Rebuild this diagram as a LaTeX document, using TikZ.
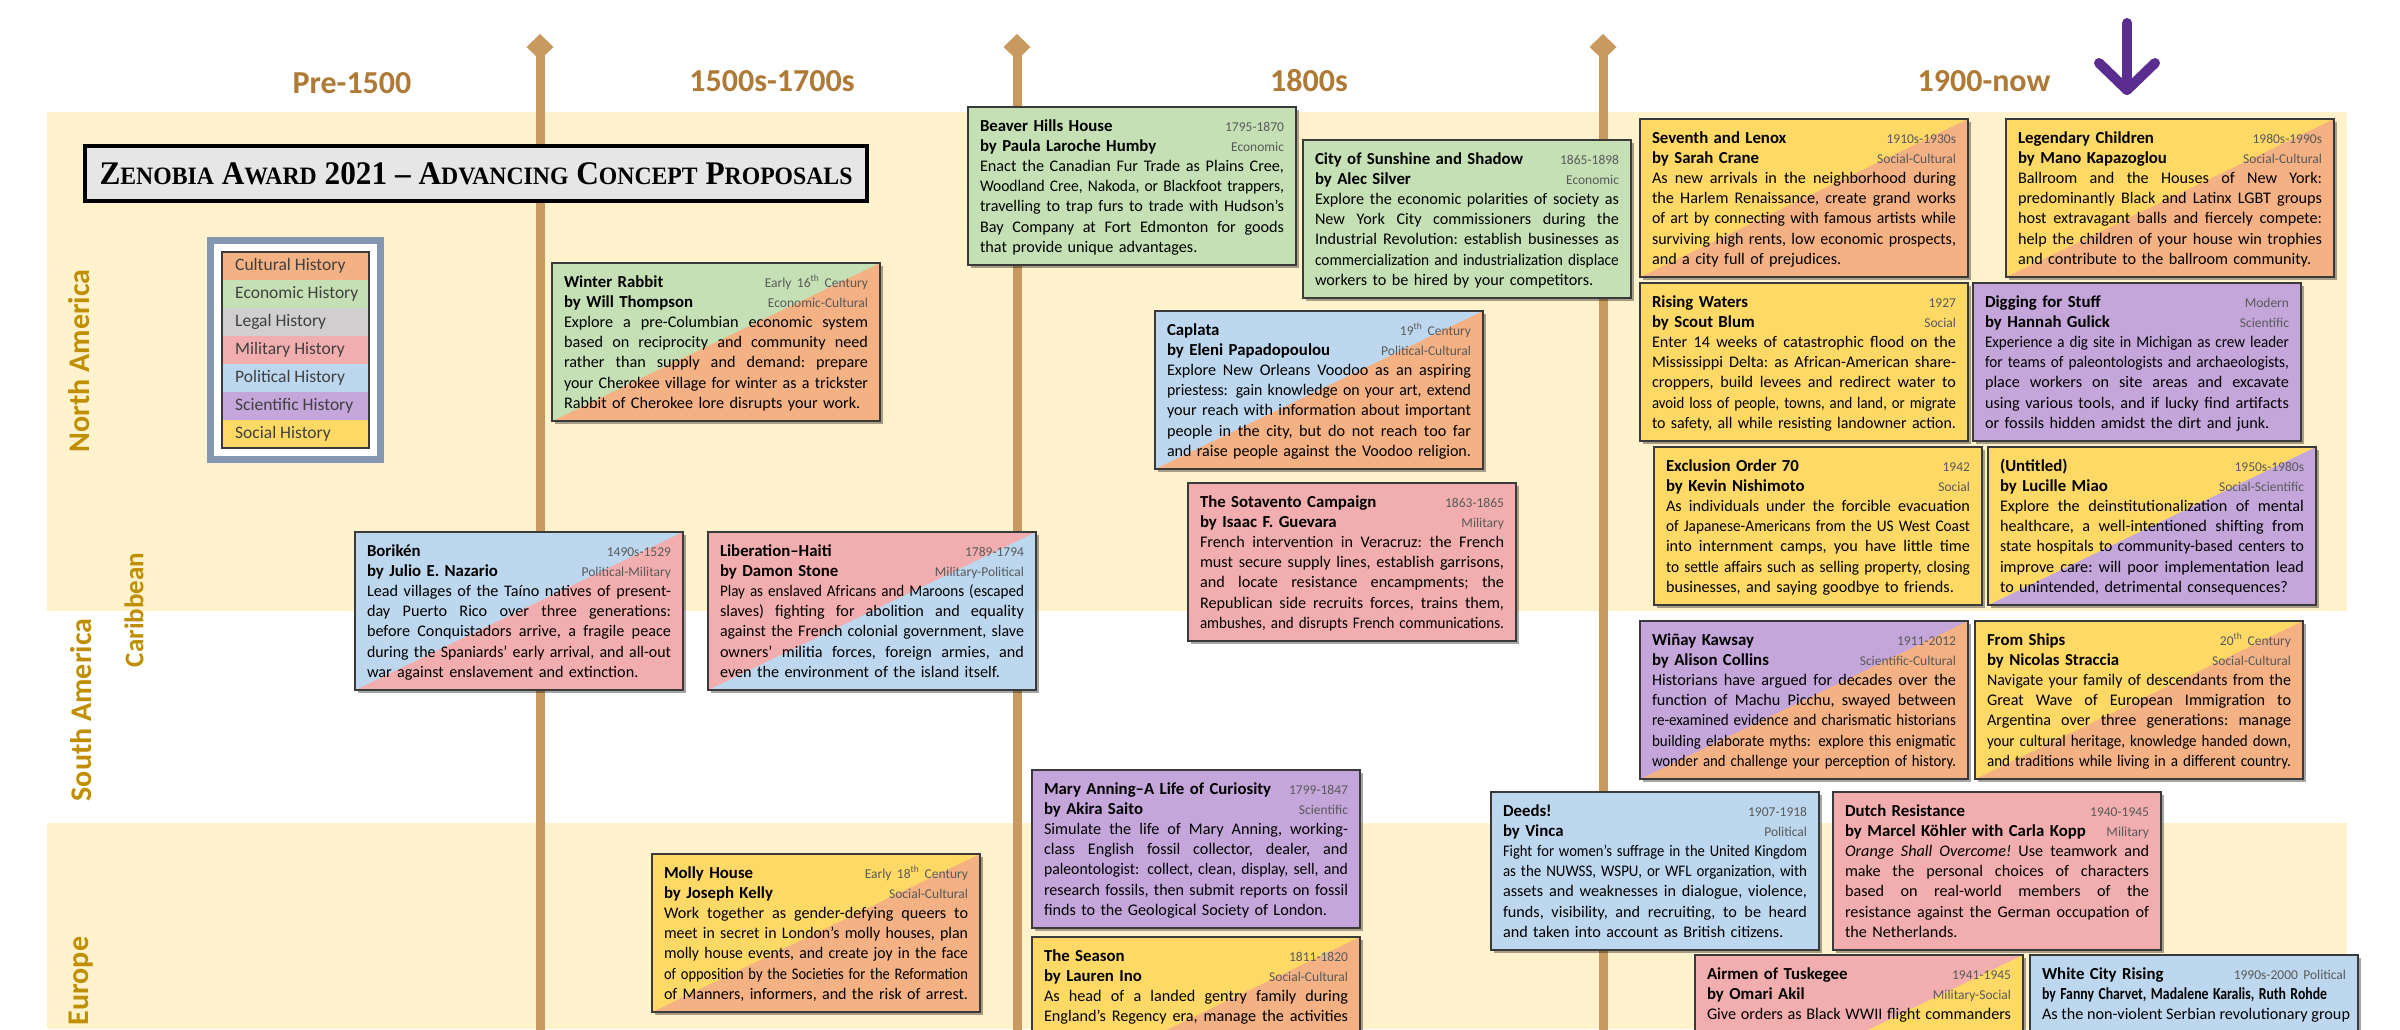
\documentclass[tikz,border=0pt]{standalone}
\usepackage{fontspec}
\setmainfont{Carlito}
\newfontfamily\ttlfont{Liberation Serif}
\usepackage{graphicx}
\usetikzlibrary{shadows,calc}
\setlength\parindent{0pt}

% category colours
\definecolor{cult}{HTML}{F4B183}
\definecolor{econ}{HTML}{C5E0B4}
\definecolor{legl}{HTML}{D0CECE}
\definecolor{mil}{HTML}{F2AEAE}
\definecolor{pol}{HTML}{BDD7EE}
\definecolor{sci}{HTML}{C4A6DA}
\definecolor{soc}{HTML}{FFD966}
% page colours
\definecolor{band}{HTML}{FFF2CC}
\definecolor{tan}{HTML}{C99A5F}
\definecolor{eratext}{HTML}{AE7A36}
\definecolor{regtext}{HTML}{BF8F00}
\definecolor{cardline}{HTML}{3A3A3A}
\definecolor{metagray}{HTML}{595959}
\definecolor{legframe}{HTML}{8497B0}
\definecolor{legtext}{HTML}{404040}
\definecolor{ttlfill}{HTML}{E7E6E6}
\definecolor{arrowpurple}{HTML}{5C2D91}

% card typography
\newlength\cw \setlength\cw{304pt}
\newsavebox\lnbox
\newcommand\cardfont{\fontsize{16.2}{20.2}\selectfont}
\newcommand\ttfnt{\bfseries\fontsize{16.8}{20.2}\selectfont}
\newcommand\meta{\fontsize{13.5}{20.2}\selectfont\color{metagray}}
% header: title, date, author, category
\newcommand\hd[4]{\makebox[\cw]{\rule{0pt}{24pt}{\ttfnt #1}\hfill{\meta #2}}\par
  \makebox[\cw]{{\ttfnt #3}\hfill{\meta #4}}\par}
% a line spread to the full card width
\newcommand\sj[1]{\makebox[\cw][s]{\frenchspacing\spaceskip=\fontdimen2\font plus 1fil\relax #1}}
% justified body line
\newcommand\jl[1]{\sbox\lnbox{#1}%
  \ifdim\wd\lnbox>\cw
    \pgfmathsetmacro\lnsc{\the\cw/\the\wd\lnbox}\scalebox{\lnsc}[1]{\usebox\lnbox}%
  \else\sj{#1}\fi\par}
% closing body line, optional depth below it
\newcommand\jz[2][13pt]{\sbox\lnbox{#2}%
  \ifdim\wd\lnbox>\cw
    \pgfmathsetmacro\lnsc{\the\cw/\the\wd\lnbox}\scalebox{\lnsc}[1]{\usebox\lnbox}%
  \else\usebox\lnbox\fi\rule[-#1]{0pt}{#1}\par}
% squeeze a line to a given width
\newsavebox\fitbox
\newcommand\fitto[2]{\sbox\fitbox{#2}%
  \pgfmathsetmacro\fitsc{#1/\the\wd\fitbox}\scalebox{\fitsc}[1]{\usebox\fitbox}}
\newcommand\scs[1]{{\fontsize{25}{25}\selectfont #1}}

\tikzset{
  card/.style 2 args={draw=cardline, line width=2pt, fill=#1, anchor=north west,
    outer sep=0pt, text width=304pt, inner xsep=12pt, inner ysep=0pt, font=\cardfont,
    drop shadow={shadow xshift=3pt, shadow yshift=-3pt, opacity=.35, fill=black},
    path picture={\fill[#2] (path picture bounding box.south west) --
      (path picture bounding box.north east) -- (path picture bounding box.south east) -- cycle;}},
  mono/.style={card={#1}{#1}},
  era/.style={font=\bfseries\fontsize{32}{32}\selectfont, text=eratext, inner sep=0pt},
  region/.style={font=\bfseries\fontsize{30}{30}\selectfont, text=regtext, rotate=90, inner sep=0pt},
  legrow/.style={font=\fontsize{17.5}{18}\selectfont, text=legtext, anchor=west, inner sep=0pt},
  timeline/.style={draw=tan, line width=9pt},
  marker/.style={fill=tan},
  pointer/.style={draw=arrowpurple, line width=10pt, line cap=round, line join=round},
}

\begin{document}
\begin{tikzpicture}[x=1pt,y=-1pt]
\clip (0,0) rectangle (2400,1029);
\fill[white] (0,0) rectangle (2400,1029);

% region bands
\fill[band] (47,112) rectangle (2347,611);
\fill[band] (47,823) rectangle (2347,1029);

% timeline posts with diamond heads
\foreach \px/\nm in {540/t1,1017/t2,1603/t3}{
  \coordinate (\nm top) at (\px,47);
  \coordinate (\nm bot) at (\px,1040);
  \draw[timeline] (\nm top) -- (\nm bot);
  \fill[marker] (\px,34) -- (\px+13.5,47) -- (\px,60) -- (\px-13.5,47) -- cycle;
}

% era headings
\node[era] (e1) at (352,83) {Pre-1500};
\node[era] (e2) at (772,81) {1500s-1700s};
\node[era] (e3) at (1309,81) {1800s};
\node[era] (e4) at (1984,81) {1900-now};

% purple pointer
\coordinate (arT) at (2127,23);
\coordinate (arB) at (2127,90);
\coordinate (arL) at (2099,63);
\coordinate (arR) at (2155,63);
\draw[pointer] (arT) -- (arB);
\draw[pointer] (arL) -- (arB) -- (arR);

% region labels
\node[region] (rNA) at (79,361) {North America};
\node[region, font=\bfseries\fontsize{27}{27}\selectfont] (rCA) at (134,610) {Caribbean};
\node[region] (rSA) at (81,710) {South America};
\node[region] (rEU) at (81,981) {Europe};

% title
\node[draw=black, line width=4pt, fill=ttlfill, anchor=north west, outer sep=0pt, inner sep=0pt,
  minimum width=782pt, minimum height=55pt] (title) at (85,146)
  {\fitto{753pt}{\ttlfont\bfseries\fontsize{33}{33}\selectfont Z\scs{ENOBIA} A\scs{WARD} 2021 – A\scs{DVANCING} C\scs{ONCEPT} P\scs{ROPOSALS}}};

% legend
\fill[legframe] (207,237) rectangle (384,463);
\fill[white] (214,244) rectangle (377,456);
\foreach \c/\t [count=\i from 0] in {cult/Cultural History,econ/Economic History,legl/Legal History,mil/Military History,pol/Political History,sci/Scientific History,soc/Social History}{
  \fill[\c] (222,252+28*\i) rectangle (369,280+28*\i);
  \node[legrow] (leg\i) at (235,266+28*\i) {\t};
}
\draw[cardline, line width=2.5pt] (222,252) rectangle (369,448);

% ---- cards ----
\node[card={econ}{cult}] (wr) at (552,263) {\hd{Winter Rabbit}{Early 16\textsuperscript{th} Century}{by Will Thompson}{Economic-Cultural}
\jl{Explore a pre-Columbian economic system}
\jl{based on reciprocity and community need}
\jl{rather than supply and demand: prepare}
\jl{your Cherokee village for winter as a trickster}
\jz{Rabbit of Cherokee lore disrupts your work.}};

\node[card={pol}{mil}] (bk) at (355,532) {\hd{Borikén}{1490s-1529}{by Julio E. Nazario}{Political-Military}
\jl{Lead villages of the Taíno natives of present-}
\jl{day Puerto Rico over three generations:}
\jl{before Conquistadors arrive, a fragile peace}
\jl{during the Spaniards’ early arrival, and all-out}
\jz{war against enslavement and extinction.}};

\node[card={mil}{pol}] (lh) at (708,532) {\hd{Liberation–Haiti}{1789-1794}{by Damon Stone}{Military-Political}
\jl{Play as enslaved Africans and Maroons (escaped}
\jl{slaves) fighting for abolition and equality}
\jl{against the French colonial government, slave}
\jl{owners’ militia forces, foreign armies, and}
\jz{even the environment of the island itself.}};

\node[mono=econ] (bh) at (968,107) {\hd{Beaver Hills House}{1795-1870}{by Paula Laroche Humby}{Economic}
\jl{Enact the Canadian Fur Trade as Plains Cree,}
\jl{Woodland Cree, Nakoda, or Blackfoot trappers,}
\jl{travelling to trap furs to trade with Hudson’s}
\jl{Bay Company at Fort Edmonton for goods}
\jz{that provide unique advantages.}};

\node[mono=econ] (cs) at (1303,140) {\hd{City of Sunshine and Shadow}{1865-1898}{by Alec Silver}{Economic}
\jl{Explore the economic polarities of society as}
\jl{New York City commissioners during the}
\jl{Industrial Revolution: establish businesses as}
\jl{commercialization and industrialization displace}
\jz{workers to be hired by your competitors.}};

\node[card={pol}{cult}] (cp) at (1155,311) {\hd{Caplata}{19\textsuperscript{th} Century}{by Eleni Papadopoulou}{Political-Cultural}
\jl{Explore New Orleans Voodoo as an aspiring}
\jl{priestess: gain knowledge on your art, extend}
\jl{your reach with information about important}
\jl{people in the city, but do not reach too far}
\jz{and raise people against the Voodoo religion.}};

\node[mono=mil] (sc) at (1188,483) {\hd{The Sotavento Campaign}{1863-1865}{by Isaac F. Guevara}{Military}
\jl{French intervention in Veracruz: the French}
\jl{must secure supply lines, establish garrisons,}
\jl{and locate resistance encampments; the}
\jl{Republican side recruits forces, trains them,}
\jz{ambushes, and disrupts French communications.}};

\node[mono=sci] (ma) at (1032,770) {\hd{Mary Anning–A Life of Curiosity}{1799-1847}{by Akira Saito}{Scientific}
\jl{Simulate the life of Mary Anning, working-}
\jl{class English fossil collector, dealer, and}
\jl{paleontologist: collect, clean, display, sell, and}
\jl{research fossils, then submit reports on fossil}
\jz{finds to the Geological Society of London.}};

\node[card={soc}{cult}] (ts) at (1032,937) {\hd{The Season}{1811-1820}{by Lauren Ino}{Social-Cultural}
\jl{As head of a landed gentry family during}
\jz[73pt]{\sj{England’s Regency era, manage the activities}}};

\node[card={soc}{cult}] (mh) at (652,854) {\hd{Molly House}{Early 18\textsuperscript{th} Century}{by Joseph Kelly}{Social-Cultural}
\jl{Work together as gender-defying queers to}
\jl{meet in secret in London’s molly houses, plan}
\jl{molly house events, and create joy in the face}
\jl{of opposition by the Societies for the Reformation}
\jz{of Manners, informers, and the risk of arrest.}};

\node[card={soc}{cult}] (sl) at (1640,119) {\hd{Seventh and Lenox}{1910s-1930s}{by Sarah Crane}{Social-Cultural}
\jl{As new arrivals in the neighborhood during}
\jl{the Harlem Renaissance, create grand works}
\jl{of art by connecting with famous artists while}
\jl{surviving high rents, low economic prospects,}
\jz{and a city full of prejudices.}};

\node[mono=soc] (rw) at (1640,283) {\hd{Rising Waters}{1927}{by Scout Blum}{Social}
\jl{Enter 14 weeks of catastrophic flood on the}
\jl{Mississippi Delta: as African-American share-}
\jl{croppers, build levees and redirect water to}
\jl{avoid loss of people, towns, and land, or migrate}
\jz{to safety, all while resisting landowner action.}};

\node[card={soc}{cult}] (lc) at (2006,119) {\hd{Legendary Children}{1980s-1990s}{by Mano Kapazoglou}{Social-Cultural}
\jl{Ballroom and the Houses of New York:}
\jl{predominantly Black and Latinx LGBT groups}
\jl{host extravagant balls and fiercely compete:}
\jl{help the children of your house win trophies}
\jz{and contribute to the ballroom community.}};

\node[mono=sci] (dg) at (1973,283) {\hd{Digging for Stuff}{Modern}{by Hannah Gulick}{Scientific}
\jl{Experience a dig site in Michigan as crew leader}
\jl{for teams of paleontologists and archaeologists,}
\jl{place workers on site areas and excavate}
\jl{using various tools, and if lucky find artifacts}
\jz{or fossils hidden amidst the dirt and junk.}};

\node[mono=soc] (eo) at (1654,447) {\hd{Exclusion Order 70}{1942}{by Kevin Nishimoto}{Social}
\jl{As individuals under the forcible evacuation}
\jl{of Japanese-Americans from the US West Coast}
\jl{into internment camps, you have little time}
\jl{to settle affairs such as selling property, closing}
\jz{businesses, and saying goodbye to friends.}};

\node[card={soc}{sci}] (un) at (1988,447) {\hd{(Untitled)}{1950s-1980s}{by Lucille Miao}{Social-Scientific}
\jl{Explore the deinstitutionalization of mental}
\jl{healthcare, a well-intentioned shifting from}
\jl{state hospitals to community-based centers to}
\jl{improve care: will poor implementation lead}
\jz{to unintended, detrimental consequences?}};

\node[card={sci}{cult}] (wk) at (1640,621) {\hd{Wiñay Kawsay}{1911-2012}{by Alison Collins}{Scientific-Cultural}
\jl{Historians have argued for decades over the}
\jl{function of Machu Picchu, swayed between}
\jl{re-examined evidence and charismatic historians}
\jl{building elaborate myths: explore this enigmatic}
\jz{wonder and challenge your perception of history.}};

\node[card={soc}{cult}] (fs) at (1975,621) {\hd{From Ships}{20\textsuperscript{th} Century}{by Nicolas Straccia}{Social-Cultural}
\jl{Navigate your family of descendants from the}
\jl{Great Wave of European Immigration to}
\jl{Argentina over three generations: manage}
\jl{your cultural heritage, knowledge handed down,}
\jz{and traditions while living in a different country.}};

\node[mono=pol] (dd) at (1491,792) {\hd{Deeds!}{1907-1918}{by Vinca}{Political}
\jl{Fight for women’s suffrage in the United Kingdom}
\jl{as the NUWSS, WSPU, or WFL organization, with}
\jl{assets and weaknesses in dialogue, violence,}
\jl{funds, visibility, and recruiting, to be heard}
\jz{and taken into account as British citizens.}};

\node[mono=mil] (dr) at (1833,792) {\hd{Dutch Resistance}{1940-1945}{by Marcel Köhler with Carla Kopp}{Military}
\jl{\textit{Orange Shall Overcome!} Use teamwork and}
\jl{make the personal choices of characters}
\jl{based on real-world members of the}
\jl{resistance against the German occupation of}
\jz{the Netherlands.}};

\node[card={mil}{soc}] (at) at (1695,955) {\hd{Airmen of Tuskegee}{1941-1945}{by Omari Akil}{Military-Social}
\jz[94pt]{\sj{Give orders as Black WWII flight commanders}}};

\node[mono=pol] (wc) at (2030,955) {\makebox[\cw]{\rule{0pt}{24pt}{\ttfnt White City Rising}\hfill{\meta 1990s-2000 Political}}\par
\makebox[\cw][l]{\fitto{285pt}{\ttfnt by Fanny Charvet, Madalene Karalis, Ruth Rohde}}\par
\jz[94pt]{\sj{As the non-violent Serbian revolutionary group}}};

\end{tikzpicture}
\end{document}
